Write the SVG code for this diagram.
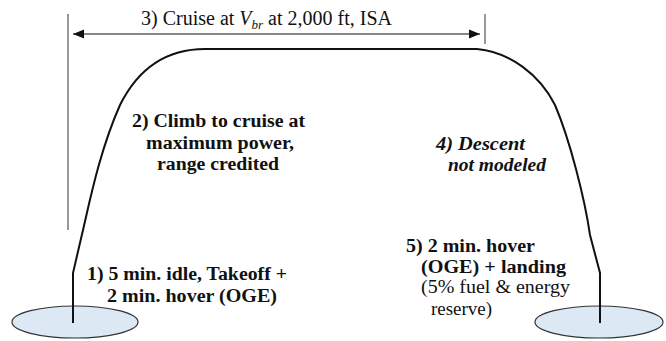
<svg xmlns="http://www.w3.org/2000/svg" width="666" height="341" viewBox="0 0 666 341">
<defs>
<style>
.pad{fill:#dce9f5;stroke:#333;stroke-width:1.2}
.curve{fill:none;stroke:#111;stroke-width:2}
.guide{stroke:#777;stroke-width:1.5}
</style>
<marker id="ah" viewBox="0 0 10 10" refX="10" refY="5" markerWidth="11" markerHeight="11" markerUnits="userSpaceOnUse" orient="auto-start-reverse">
<path d="M0,1 L10,5 L0,9 Z" fill="#111"/>
</marker>
</defs>
<rect width="666" height="341" fill="#fff"/>
<g id="pad-left"><ellipse class="pad" cx="75" cy="322" rx="63" ry="16"/></g>
<g id="pad-right"><ellipse class="pad" cx="599" cy="322" rx="64" ry="16"/></g>
<g id="connectors">
<line class="guide" x1="68" y1="14" x2="68" y2="230"/>
<line class="guide" x1="485" y1="14" x2="485" y2="44"/>
<line x1="73" y1="34" x2="480" y2="34" stroke="#111" stroke-width="1.2" marker-start="url(#ah)" marker-end="url(#ah)"/>
<path class="curve" d="M73,323 V273 L83,230 C90,200 100,150 120,105 C140,65 170,49 205,49 H477 C510,52 540,75 555,105 C570,140 585,200 590,235 L600,273 V323"/>
</g>
<g id="label-cruise"><text x="141" y="25" style="font-family:'Liberation Serif',serif;font-size:20px;fill:#111">3) Cruise at <tspan font-style="italic">V</tspan><tspan font-style="italic" font-size="13" dy="4">br</tspan><tspan dy="-4"> at 2,000 ft, ISA</tspan></text></g>
<g id="label-climb"><text style="font-family:'Liberation Serif',serif;font-size:18px;font-weight:bold;fill:#111"><tspan x="132" y="127" textLength="173" lengthAdjust="spacingAndGlyphs">2) Climb to cruise at</tspan><tspan x="146" y="149" textLength="148" lengthAdjust="spacingAndGlyphs">maximum power,</tspan><tspan x="157" y="170" textLength="122" lengthAdjust="spacingAndGlyphs">range credited</tspan></text></g>
<g id="label-descent"><text style="font-family:'Liberation Serif',serif;font-size:18px;font-weight:bold;font-style:italic;fill:#111"><tspan x="436" y="150" textLength="89" lengthAdjust="spacingAndGlyphs">4) Descent</tspan><tspan x="448" y="171" textLength="98" lengthAdjust="spacingAndGlyphs">not modeled</tspan></text></g>
<g id="label-takeoff"><text style="font-family:'Liberation Serif',serif;font-size:18px;font-weight:bold;fill:#111"><tspan x="87" y="280" textLength="200" lengthAdjust="spacingAndGlyphs">1) 5 min. idle, Takeoff +</tspan><tspan x="107" y="302" textLength="170" lengthAdjust="spacingAndGlyphs">2 min. hover (OGE)</tspan></text></g>
<g id="label-landing"><text style="font-family:'Liberation Serif',serif;font-size:18px;fill:#111"><tspan font-weight="bold" x="406" y="252" textLength="129" lengthAdjust="spacingAndGlyphs">5) 2 min. hover</tspan><tspan font-weight="bold" x="421" y="273" textLength="145" lengthAdjust="spacingAndGlyphs">(OGE) + landing</tspan><tspan x="421" y="293" textLength="149" lengthAdjust="spacingAndGlyphs">(5% fuel &amp; energy</tspan><tspan x="431" y="315" textLength="61" lengthAdjust="spacingAndGlyphs">reserve)</tspan></text></g>
</svg>
